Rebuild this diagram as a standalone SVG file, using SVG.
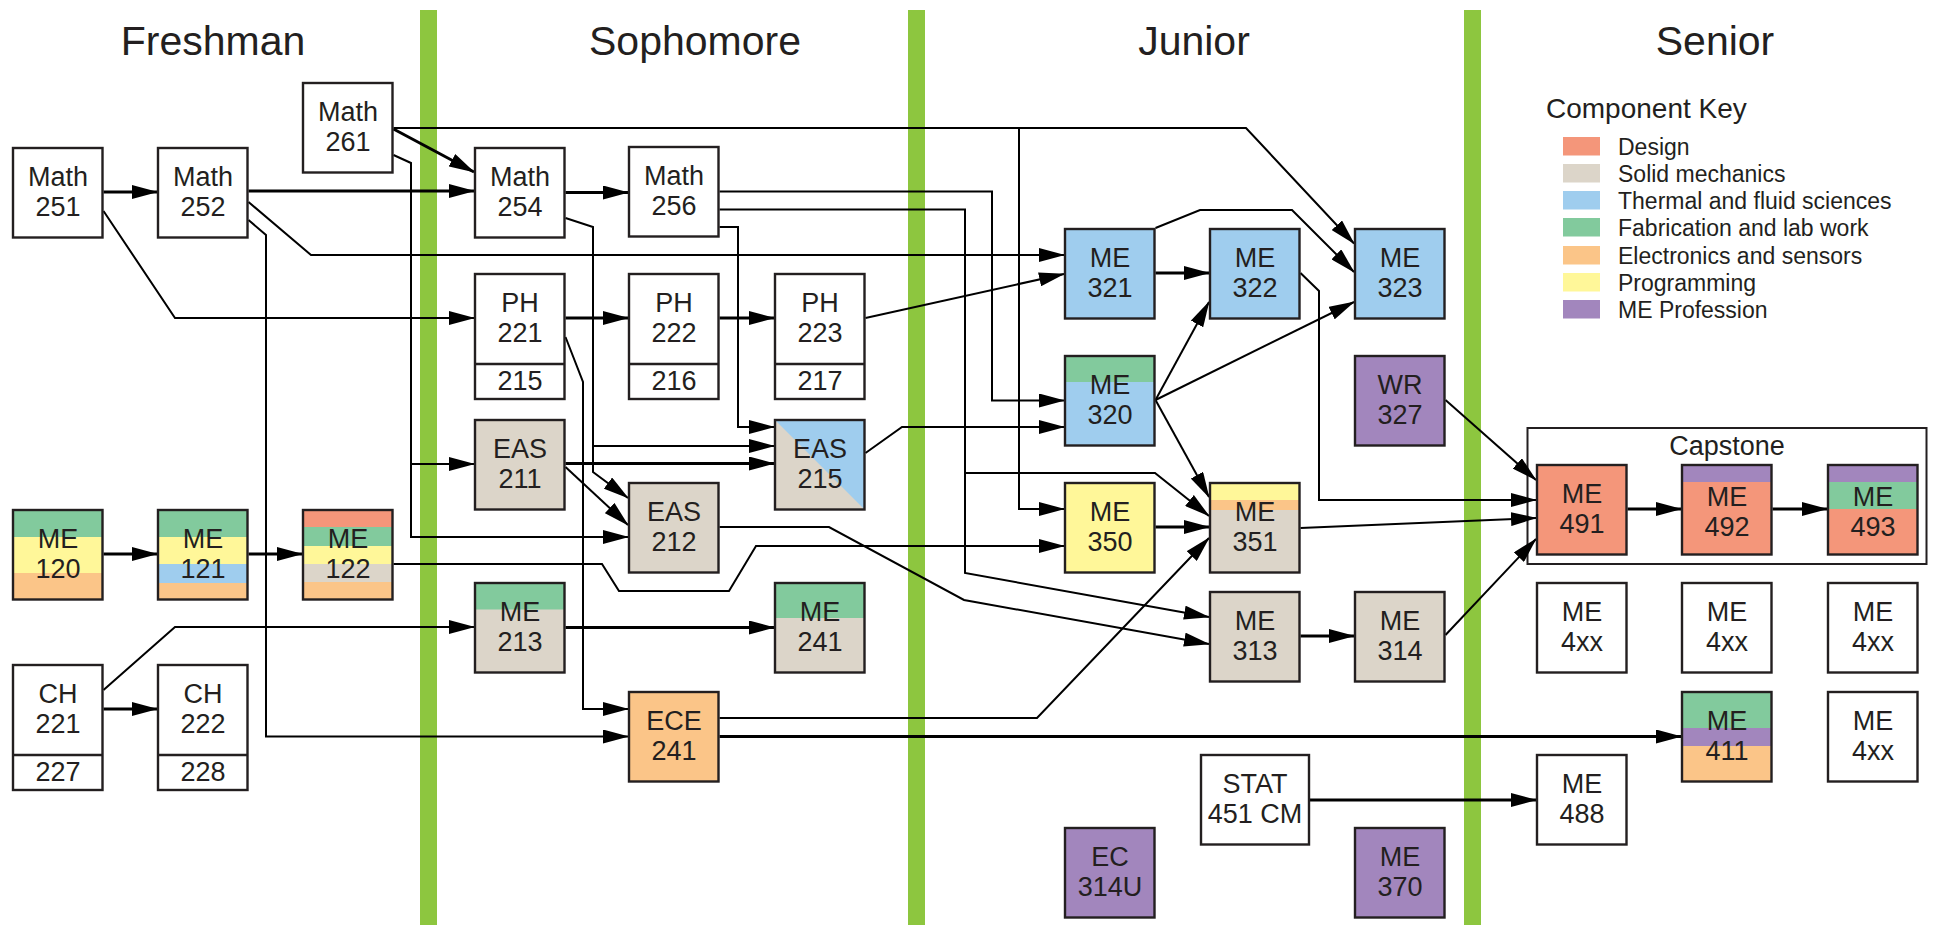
<svg xmlns="http://www.w3.org/2000/svg" width="1933" height="925" viewBox="0 0 1933 925">
<defs>
<style>
.bx{fill:none;stroke:#231f20;stroke-width:2.4}
.w{fill:#fff}
.t{font-family:"Liberation Sans",Arial,sans-serif;font-size:27px;fill:#231f20;text-anchor:middle}
.h{font-family:"Liberation Sans",Arial,sans-serif;font-size:41px;fill:#231f20;text-anchor:middle}
.lg{font-family:"Liberation Sans",Arial,sans-serif;font-size:23px;fill:#231f20}
.d{fill:#f4967a}.s{fill:#dcd5c9}.th{fill:#9fcdee}.f{fill:#82ca9d}.e{fill:#fbc588}.p{fill:#fff799}.m{fill:#a286bd}
.bar{fill:#8dc63f}
.ck{fill:none;stroke:#000;stroke-width:3;marker-end:url(#ah)}
.cn{fill:none;stroke:#000;stroke-width:2;marker-end:url(#ah)}
</style>
<marker id="ah" markerUnits="userSpaceOnUse" markerWidth="26" markerHeight="14" viewBox="0 0 26 14" refX="25" refY="7" orient="auto">
<path d="M0,0 L26,7 L0,14 z" fill="#000"/>
</marker>
</defs>
<rect width="1933" height="925" fill="#fff"/>
<g id="bars">
<rect class="bar" x="420" y="10" width="17" height="915"/>
<rect class="bar" x="908" y="10" width="17" height="915"/>
<rect class="bar" x="1464" y="10" width="17" height="915"/>
</g>
<g id="headers">
<text class="h" x="213" y="55">Freshman</text>
<text class="h" x="695" y="55">Sophomore</text>
<text class="h" x="1194" y="55">Junior</text>
<text class="h" x="1715" y="55">Senior</text>
</g>
<g id="legend">
<text class="lg" x="1546" y="118" style="font-size:28px">Component Key</text>
<rect class="d" x="1563" y="137" width="37" height="18.5"/><text class="lg" x="1618" y="155">Design</text>
<rect class="s" x="1563" y="164" width="37" height="18.5"/><text class="lg" x="1618" y="182">Solid mechanics</text>
<rect class="th" x="1563" y="191" width="37" height="18.5"/><text class="lg" x="1618" y="209">Thermal and fluid sciences</text>
<rect class="f" x="1563" y="218" width="37" height="18.5"/><text class="lg" x="1618" y="236">Fabrication and lab work</text>
<rect class="e" x="1563" y="246" width="37" height="18.5"/><text class="lg" x="1618" y="264">Electronics and sensors</text>
<rect class="p" x="1563" y="273" width="37" height="18.5"/><text class="lg" x="1618" y="291">Programming</text>
<rect class="m" x="1563" y="300" width="37" height="18.5"/><text class="lg" x="1618" y="318">ME Profession</text>
</g>
<g id="capstone">
<rect x="1527.5" y="428" width="399" height="136" fill="none" stroke="#231f20" stroke-width="2"/>
<text class="t" x="1727" y="455">Capstone</text>
</g>
<g id="connectors">
<path class="ck" d="M103.5,192 H157"/>
<path class="ck" d="M248.5,191 H474"/>
<path class="ck" d="M393.5,129 L474,172"/>
<path class="ck" d="M565.5,192.5 H628"/>
<path class="ck" d="M565.5,318 H628"/>
<path class="ck" d="M719.5,318 H774"/>
<path class="ck" d="M565.5,463.5 H774"/>
<path class="ck" d="M103.5,554 H157"/>
<path class="ck" d="M248.5,554 H302"/>
<path class="ck" d="M103.5,709 H157"/>
<path class="ck" d="M565.5,627.5 H774"/>
<path class="ck" d="M719.5,736.5 H1681"/>
<path class="ck" d="M1155.5,273 H1209"/>
<path class="ck" d="M1155.5,527 H1209"/>
<path class="ck" d="M1300.5,636 H1354"/>
<path class="ck" d="M1310,800 H1536"/>
<path class="ck" d="M1627.5,509 H1681"/>
<path class="ck" d="M1772.5,509 H1827"/>
<path class="cn" d="M103.5,211 L175,318 H474"/>
<path class="cn" d="M248.5,202 L311,255 H1064"/>
<path class="cn" d="M248.5,220 L266,235 V736.5 H628"/>
<path class="cn" d="M393.5,128 H1246 L1354,243.5"/>
<path class="cn" d="M1019,128 V509 H1064"/>
<path class="cn" d="M393.5,155 L411,163 V464 H474"/>
<path class="cn" d="M411,464 V537 H628"/>
<path class="cn" d="M565.5,218 L593,227 V472 L628,498"/>
<path class="cn" d="M593,446 H774"/>
<path class="cn" d="M565.5,337 L583,382 V709 H628"/>
<path class="cn" d="M719.5,191.5 H992 V400.5 H1064"/>
<path class="cn" d="M719.5,209.5 H965 V573 L1209,617"/>
<path class="cn" d="M965,473 H1155 L1209,516"/>
<path class="cn" d="M719.5,227 H738 V427 H774"/>
<path class="cn" d="M565.5,467 L628,525"/>
<path class="cn" d="M865.5,453 L902,427 H1064"/>
<path class="cn" d="M719.5,527 H829 L964,600 L1209,644"/>
<path class="cn" d="M393.5,564 H602 L619,591 H729 L756,546 H1064"/>
<path class="cn" d="M103.5,690 L175,627 H474"/>
<path class="cn" d="M719.5,718 H1037 L1209,538"/>
<path class="cn" d="M865.5,318 L1064,274"/>
<path class="cn" d="M1155.5,228 L1200,210 H1292 L1354,272"/>
<path class="cn" d="M1155.5,400 L1209,302"/>
<path class="cn" d="M1155.5,400 L1354,302"/>
<path class="cn" d="M1155.5,400 L1209,497"/>
<path class="cn" d="M1300.5,273 L1319,291 V500 H1536"/>
<path class="cn" d="M1300.5,528 L1536,518"/>
<path class="cn" d="M1445.5,400 L1536,480"/>
<path class="cn" d="M1445.5,635 L1536,539"/>
</g>
<g id="math251"><rect class="bx w" x="13" y="148" width="89.5" height="89.5"/><text class="t" x="58" y="186">Math</text><text class="t" x="58" y="216">251</text></g>
<g id="math252"><rect class="bx w" x="158" y="148" width="89.5" height="89.5"/><text class="t" x="203" y="186">Math</text><text class="t" x="203" y="216">252</text></g>
<g id="math261"><rect class="bx w" x="303" y="83" width="89.5" height="89.5"/><text class="t" x="348" y="121">Math</text><text class="t" x="348" y="151">261</text></g>
<g id="me120"><rect class="f" x="13" y="510" width="89.5" height="27"/><rect class="p" x="13" y="537" width="89.5" height="36"/><rect class="e" x="13" y="573" width="89.5" height="26.5"/><rect class="bx" x="13" y="510" width="89.5" height="89.5"/><text class="t" x="58" y="548">ME</text><text class="t" x="58" y="578">120</text></g>
<g id="me121"><rect class="f" x="158" y="510" width="89.5" height="27"/><rect class="p" x="158" y="537" width="89.5" height="27"/><rect class="th" x="158" y="564" width="89.5" height="19"/><rect class="e" x="158" y="583" width="89.5" height="16.5"/><rect class="bx" x="158" y="510" width="89.5" height="89.5"/><text class="t" x="203" y="548">ME</text><text class="t" x="203" y="578">121</text></g>
<g id="me122"><rect class="d" x="303" y="510" width="89.5" height="17"/><rect class="f" x="303" y="527" width="89.5" height="19"/><rect class="p" x="303" y="546" width="89.5" height="18"/><rect class="s" x="303" y="564" width="89.5" height="18"/><rect class="e" x="303" y="582" width="89.5" height="17.5"/><rect class="bx" x="303" y="510" width="89.5" height="89.5"/><text class="t" x="348" y="548">ME</text><text class="t" x="348" y="578">122</text></g>
<g id="ch221"><rect class="bx w" x="13" y="665" width="89.5" height="125"/><line x1="13" y1="755" x2="102.5" y2="755" stroke="#231f20" stroke-width="2.4"/><text class="t" x="58" y="703">CH</text><text class="t" x="58" y="733">221</text><text class="t" x="58" y="781">227</text></g>
<g id="ch222"><rect class="bx w" x="158" y="665" width="89.5" height="125"/><line x1="158" y1="755" x2="247.5" y2="755" stroke="#231f20" stroke-width="2.4"/><text class="t" x="203" y="703">CH</text><text class="t" x="203" y="733">222</text><text class="t" x="203" y="781">228</text></g>
<g id="math254"><rect class="bx w" x="475" y="148" width="89.5" height="89.5"/><text class="t" x="520" y="186">Math</text><text class="t" x="520" y="216">254</text></g>
<g id="math256"><rect class="bx w" x="629" y="147" width="89.5" height="89.5"/><text class="t" x="674" y="185">Math</text><text class="t" x="674" y="215">256</text></g>
<g id="ph221"><rect class="bx w" x="475" y="274" width="89.5" height="125"/><line x1="475" y1="364" x2="564.5" y2="364" stroke="#231f20" stroke-width="2.4"/><text class="t" x="520" y="312">PH</text><text class="t" x="520" y="342">221</text><text class="t" x="520" y="390">215</text></g>
<g id="ph222"><rect class="bx w" x="629" y="274" width="89.5" height="125"/><line x1="629" y1="364" x2="718.5" y2="364" stroke="#231f20" stroke-width="2.4"/><text class="t" x="674" y="312">PH</text><text class="t" x="674" y="342">222</text><text class="t" x="674" y="390">216</text></g>
<g id="ph223"><rect class="bx w" x="775" y="274" width="89.5" height="125"/><line x1="775" y1="364" x2="864.5" y2="364" stroke="#231f20" stroke-width="2.4"/><text class="t" x="820" y="312">PH</text><text class="t" x="820" y="342">223</text><text class="t" x="820" y="390">217</text></g>
<g id="eas211"><rect class="bx s" x="475" y="420" width="89.5" height="89.5"/><text class="t" x="520" y="458">EAS</text><text class="t" x="520" y="488">211</text></g>
<g id="eas215"><rect class="s" x="775" y="420" width="89.5" height="89.5"/><polygon class="th" points="775,420 864.5,420 864.5,509.5"/><rect class="bx" x="775" y="420" width="89.5" height="89.5"/><text class="t" x="820" y="458">EAS</text><text class="t" x="820" y="488">215</text></g>
<g id="eas212"><rect class="bx s" x="629" y="483" width="89.5" height="89.5"/><text class="t" x="674" y="521">EAS</text><text class="t" x="674" y="551">212</text></g>
<g id="me213"><rect class="s" x="475" y="583" width="89.5" height="89.5"/><rect class="f" x="475" y="583" width="89.5" height="26.5"/><rect class="bx" x="475" y="583" width="89.5" height="89.5"/><text class="t" x="520" y="621">ME</text><text class="t" x="520" y="651">213</text></g>
<g id="me241"><rect class="s" x="775" y="583" width="89.5" height="89.5"/><rect class="f" x="775" y="583" width="89.5" height="35"/><rect class="bx" x="775" y="583" width="89.5" height="89.5"/><text class="t" x="820" y="621">ME</text><text class="t" x="820" y="651">241</text></g>
<g id="ece241"><rect class="bx e" x="629" y="692" width="89.5" height="89.5"/><text class="t" x="674" y="730">ECE</text><text class="t" x="674" y="760">241</text></g>
<g id="me321"><rect class="bx th" x="1065" y="229" width="89.5" height="89.5"/><text class="t" x="1110" y="267">ME</text><text class="t" x="1110" y="297">321</text></g>
<g id="me322"><rect class="bx th" x="1210" y="229" width="89.5" height="89.5"/><text class="t" x="1255" y="267">ME</text><text class="t" x="1255" y="297">322</text></g>
<g id="me323"><rect class="bx th" x="1355" y="229" width="89.5" height="89.5"/><text class="t" x="1400" y="267">ME</text><text class="t" x="1400" y="297">323</text></g>
<g id="me320"><rect class="th" x="1065" y="356" width="89.5" height="89.5"/><rect class="f" x="1065" y="356" width="89.5" height="26"/><rect class="bx" x="1065" y="356" width="89.5" height="89.5"/><text class="t" x="1110" y="394">ME</text><text class="t" x="1110" y="424">320</text></g>
<g id="wr327"><rect class="bx m" x="1355" y="356" width="89.5" height="89.5"/><text class="t" x="1400" y="394">WR</text><text class="t" x="1400" y="424">327</text></g>
<g id="me350"><rect class="bx p" x="1065" y="483" width="89.5" height="89.5"/><text class="t" x="1110" y="521">ME</text><text class="t" x="1110" y="551">350</text></g>
<g id="me351"><rect class="s" x="1210" y="483" width="89.5" height="89.5"/><rect class="p" x="1210" y="483" width="89.5" height="17"/><rect class="e" x="1210" y="500" width="89.5" height="10"/><rect class="bx" x="1210" y="483" width="89.5" height="89.5"/><text class="t" x="1255" y="521">ME</text><text class="t" x="1255" y="551">351</text></g>
<g id="me313"><rect class="bx s" x="1210" y="592" width="89.5" height="89.5"/><text class="t" x="1255" y="630">ME</text><text class="t" x="1255" y="660">313</text></g>
<g id="me314"><rect class="bx s" x="1355" y="592" width="89.5" height="89.5"/><text class="t" x="1400" y="630">ME</text><text class="t" x="1400" y="660">314</text></g>
<g id="stat451"><rect class="bx w" x="1201" y="755" width="108" height="89.5"/><text class="t" x="1255" y="793">STAT</text><text class="t" x="1255" y="823">451 CM</text></g>
<g id="ec314u"><rect class="bx m" x="1065" y="828" width="89.5" height="89.5"/><text class="t" x="1110" y="866">EC</text><text class="t" x="1110" y="896">314U</text></g>
<g id="me370"><rect class="bx m" x="1355" y="828" width="89.5" height="89.5"/><text class="t" x="1400" y="866">ME</text><text class="t" x="1400" y="896">370</text></g>
<g id="me491"><rect class="bx d" x="1537" y="465" width="89.5" height="89.5"/><text class="t" x="1582" y="503">ME</text><text class="t" x="1582" y="533">491</text></g>
<g id="me492"><rect class="d" x="1682" y="465" width="89.5" height="89.5"/><rect class="m" x="1682" y="465" width="89.5" height="17"/><rect class="bx" x="1682" y="465" width="89.5" height="89.5"/><text class="t" x="1727" y="506">ME</text><text class="t" x="1727" y="536">492</text></g>
<g id="me493"><rect class="d" x="1828" y="465" width="89.5" height="89.5"/><rect class="m" x="1828" y="465" width="89.5" height="17"/><rect class="f" x="1828" y="482" width="89.5" height="27"/><rect class="bx" x="1828" y="465" width="89.5" height="89.5"/><text class="t" x="1873" y="506">ME</text><text class="t" x="1873" y="536">493</text></g>
<g id="me4xx-1"><rect class="bx w" x="1537" y="583" width="89.5" height="89.5"/><text class="t" x="1582" y="621">ME</text><text class="t" x="1582" y="651">4xx</text></g>
<g id="me4xx-2"><rect class="bx w" x="1682" y="583" width="89.5" height="89.5"/><text class="t" x="1727" y="621">ME</text><text class="t" x="1727" y="651">4xx</text></g>
<g id="me4xx-3"><rect class="bx w" x="1828" y="583" width="89.5" height="89.5"/><text class="t" x="1873" y="621">ME</text><text class="t" x="1873" y="651">4xx</text></g>
<g id="me411"><rect class="f" x="1682" y="692" width="89.5" height="36"/><rect class="m" x="1682" y="728" width="89.5" height="18"/><rect class="e" x="1682" y="746" width="89.5" height="35.5"/><rect class="bx" x="1682" y="692" width="89.5" height="89.5"/><text class="t" x="1727" y="730">ME</text><text class="t" x="1727" y="760">411</text></g>
<g id="me4xx-4"><rect class="bx w" x="1828" y="692" width="89.5" height="89.5"/><text class="t" x="1873" y="730">ME</text><text class="t" x="1873" y="760">4xx</text></g>
<g id="me488"><rect class="bx w" x="1537" y="755" width="89.5" height="89.5"/><text class="t" x="1582" y="793">ME</text><text class="t" x="1582" y="823">488</text></g>
</svg>
